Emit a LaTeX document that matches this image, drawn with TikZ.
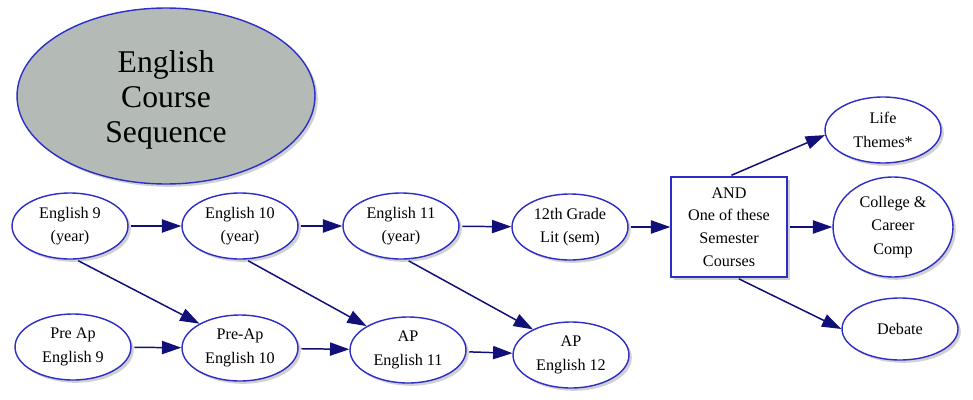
\documentclass[tikz,border=0pt]{standalone}
\usepackage{fontspec}
\setmainfont{Liberation Serif}
\usetikzlibrary{shapes.geometric,shadows,arrows.meta}
\definecolor{edgec}{RGB}{16,16,120}
\definecolor{nodeb}{RGB}{45,45,200}
\definecolor{titlefill}{RGB}{180,187,183}
\begin{document}
\begin{tikzpicture}[x=0.02cm,y=-0.02cm,
  shad/.style={drop shadow={shadow xshift=1.6pt, shadow yshift=-1.6pt, opacity=0.45, fill=gray!80}},
  course/.style={ellipse, draw=nodeb, line width=0.8pt, fill=white, minimum width=2.32cm, minimum height=1.32cm, inner sep=0pt, align=center, font=\fontsize{9.2}{13.3}\selectfont, shad},
  titlenode/.style={ellipse, draw=nodeb, line width=0.8pt, fill=titlefill, minimum width=5.96cm, minimum height=3.52cm, inner sep=0pt, align=center, font=\fontsize{18}{20}\selectfont, shad},
  boxnode/.style={rectangle, draw=nodeb, line width=0.8pt, fill=white, minimum width=2.32cm, minimum height=2cm, inner sep=0pt, align=center, font=\fontsize{9.2}{13}\selectfont, shad},
  flow/.style={draw=edgec, line width=0.85pt, shorten <=1.5pt, -{Triangle[length=11pt,width=7.5pt]}},
]
\useasboundingbox (0,0) rectangle (973,399);

\node[titlenode] (t) at (166,96) {\rule{0pt}{17pt}English\\Course\\Sequence};

\node[course] (e9)  at (70,226)  {English 9\\(year)};
\node[course] (e10) at (240,226) {English 10\\(year)};
\node[course] (e11) at (401,226) {English 11\\(year)};
\node[course] (g12) at (570,227) {12th Grade\\Lit (sem)};
\node[boxnode] (box) at (729,227) {AND\\One of these\\Semester\\Courses};
\node[course] (life) at (883,130) {Life\\Themes*};
\node[course, minimum width=2.4cm, minimum height=2cm] (col) at (893,227) {College \&\\Career\\Comp};
\node[course, minimum height=1.24cm] (deb) at (900,329) {Debate};

\node[course] (pa9)  at (73,347)  {Pre Ap\\English 9};
\node[course] (pa10) at (240,348) {Pre-Ap\\English 10};
\node[course] (ap11) at (408,350) {AP\\English 11};
\node[course] (ap12) at (571,355) {AP\\English 12};

\draw[flow] (e9) -- (e10);
\draw[flow] (e10) -- (e11);
\draw[flow] (e11) -- (g12);
\draw[flow] (g12) -- (box);
\draw[flow] (box.north) -- (life.185);
\draw[flow] (box.east) -- (col.west);
\draw[flow] ([xshift=0.15cm]box.south) -- (deb.west);
\draw[flow] (pa9) -- (pa10);
\draw[flow] (pa10) -- (ap11);
\draw[flow] (ap11) -- (ap12);
\draw[flow] (e9.-80) -- (pa10.149);
\draw[flow] (e10.-80) -- (ap11.150);
\draw[flow] (e11.-81) -- (ap12.146);
\end{tikzpicture}
\end{document}
